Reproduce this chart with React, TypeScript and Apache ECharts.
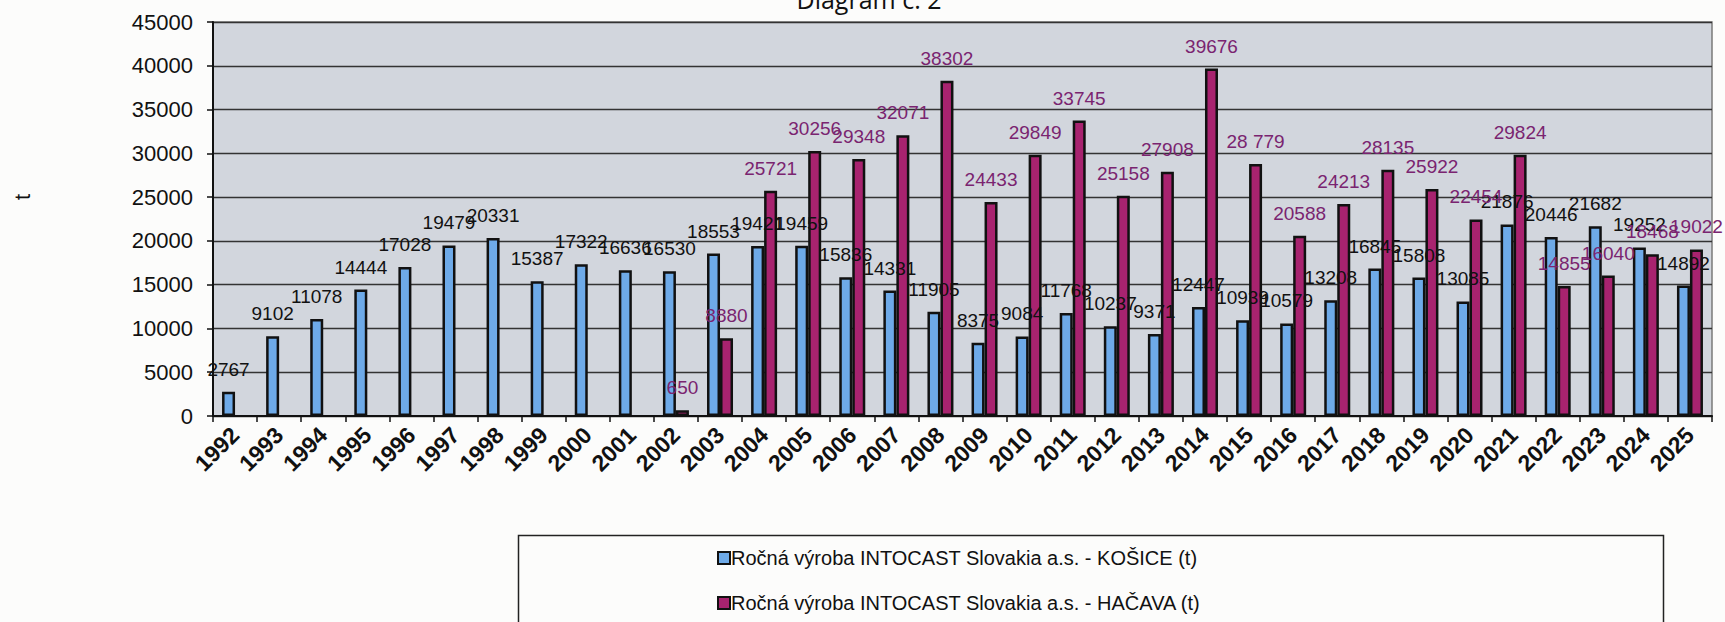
import React, { useEffect, useRef } from 'react';
import * as echarts from 'echarts';

const years = [
  '1992', '1993', '1994', '1995', '1996', '1997', '1998', '1999', '2000', '2001',
  '2002', '2003', '2004', '2005', '2006', '2007', '2008', '2009', '2010', '2011',
  '2012', '2013', '2014', '2015', '2016', '2017', '2018', '2019', '2020', '2021',
  '2022', '2023', '2024', '2025',
];

const kosice = [
  2767, 9102, 11078, 14444, 17028, 19479, 20331, 15387, 17322, 16636,
  16530, 18553, 19421, 19459, 15836, 14331, 11905, 8375, 9084, 11768,
  10237, 9371, 12447, 10939, 10579, 13208, 16845, 15808, 13085, 21876,
  20446, 21682, 19252, 14892,
];

const hacava = [
  null, null, null, null, null, null, null, null, null, null,
  650, 8880, 25721, 30256, 29348, 32071, 38302, 24433, 29849, 33745,
  25158, 27908, 39676, 28779, 20588, 24213, 28135, 25922, 22454, 29824,
  14855, 16040, 18468, 19022,
];

// label text exactly as printed in the source where it differs from the plain number
const hacavaLabelText: Record<string, string> = { '2015': '28 779' };

const seriesNames = [
  'Ročná výroba INTOCAST Slovakia a.s. - KOŠICE (t)',
  'Ročná výroba INTOCAST Slovakia a.s. - HAČAVA (t)',
];

const yMin = 0;
const yMax = 45000;
const yStep = 5000;

const FONT = '"Liberation Sans", Arial, sans-serif';

export default function App() {
  const ref = useRef<HTMLDivElement>(null);

  useEffect(() => {
    const chart = echarts.init(ref.current as HTMLDivElement, null, { renderer: 'svg' });
    chart.setOption({
      animation: false,
      backgroundColor: '#fcfcfb',
      textStyle: { fontFamily: FONT },
      grid: {
        left: 213,
        right: 13,
        top: 22,
        bottom: 206,
        show: true,
        backgroundColor: '#d2d6dd',
        borderColor: '#7a7a7a',
        borderWidth: 1.5,
        containLabel: false,
      },
      legend: {
        orient: 'vertical',
        left: 712,
        top: 543,
        itemWidth: 12,
        itemHeight: 12,
        itemGap: 25,
        icon: 'rect',
        textStyle: { fontSize: 20, color: '#111', fontFamily: FONT, padding: [0, 0, 0, -4] },
        data: seriesNames,
      },
      graphic: [
        {
          type: 'rect',
          left: 516,
          top: 533,
          shape: { width: 1145, height: 110 },
          style: { fill: 'none', stroke: '#222', lineWidth: 1.5 },
          silent: true,
        },
        {
          type: 'text',
          x: 869,
          y: -1,
          style: {
            text: 'Diagram č. 2',
            font: '25px "Open Sans", sans-serif',
            fill: '#111',
            align: 'center',
            verticalAlign: 'middle',
          },
        },
        {
          type: 'text',
          x: 22,
          y: 197,
          rotation: Math.PI / 2,
          style: {
            text: 't',
            font: '22px ' + FONT,
            fill: '#111',
            align: 'center',
            verticalAlign: 'middle',
          },
        },
      ],
      xAxis: {
        type: 'category',
        data: years,
        boundaryGap: true,
        axisLine: { show: true, lineStyle: { color: '#111', width: 2 } },
        axisTick: { show: true, interval: 0, length: 6, lineStyle: { color: '#111', width: 1.5 } },
        axisLabel: {
          interval: 0,
          rotate: 45,
          margin: 15,
          fontSize: 23,
          fontWeight: 'bold',
          color: '#111',
          fontFamily: FONT,
        },
        splitLine: { show: false },
      },
      yAxis: {
        type: 'value',
        min: yMin,
        max: yMax,
        interval: yStep,
        axisLine: { show: true, lineStyle: { color: '#111', width: 2 } },
        axisTick: { show: true, length: 6, lineStyle: { color: '#111', width: 1.5 } },
        axisLabel: {
          fontSize: 22,
          color: '#111',
          margin: 20,
          fontFamily: FONT,
          formatter: (v: number) => String(v),
        },
        splitLine: { show: true, lineStyle: { color: '#333', width: 1.3 } },
      },
      series: [
        {
          name: seriesNames[0],
          type: 'bar',
          data: kosice,
          barWidth: 13,
          barGap: '0%',
          itemStyle: { color: '#6eaae8', borderColor: '#111', borderWidth: 2.5 },
          label: {
            show: true,
            position: 'top',
            distance: 13,
            fontSize: 19,
            color: '#111',
            fontFamily: FONT,
          },
        },
        {
          name: seriesNames[1],
          type: 'bar',
          data: hacava,
          barWidth: 13,
          barGap: '0%',
          itemStyle: { color: '#a8236f', borderColor: '#111', borderWidth: 2.5 },
          label: {
            show: true,
            position: 'top',
            distance: 13,
            fontSize: 19,
            color: '#7a2470',
            fontFamily: FONT,
            formatter: (p: any) => hacavaLabelText[p.name] ?? String(p.value),
          },
        },
      ],
    });
    return () => chart.dispose();
  }, []);

  return (
    <div
      ref={ref}
      style={{ position: 'absolute', left: 0, top: 0, width: 1725, height: 622 }}
    />
  );
}
